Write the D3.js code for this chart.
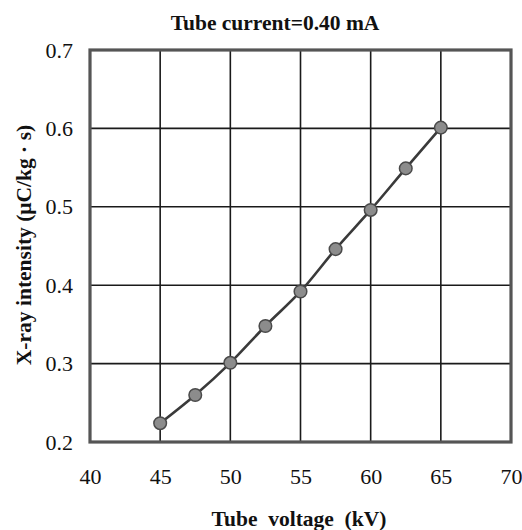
<!DOCTYPE html>
<html>
<head>
<meta charset="utf-8">
<script src="https://cdn.jsdelivr.net/npm/d3@7"></script>
<style>
  body { margin: 0; background: #fff; }
  svg text { font-family: "Liberation Serif", "Times New Roman", serif !important; fill: #111; }
</style>
</head>
<body>
<div id="chart"></div>
<script>
// tube voltage (kV) vs x-ray intensity
const voltages = [45, 47.5, 50, 52.5, 55, 57.5, 60, 62.5, 65];
const intensity = [0.224, 0.260, 0.301, 0.348, 0.392, 0.446, 0.496, 0.549, 0.601];
const xTicks = [40, 45, 50, 55, 60, 65, 70];
const yTicks = [0.2, 0.3, 0.4, 0.5, 0.6, 0.7];

const W = 522, H = 530;
const m = {left: 90, right: 11, top: 50, bottom: 88};

const svg = d3.select('#chart').append('svg')
  .attr('width', W).attr('height', H);

const sx = d3.scaleLinear().domain([40, 70]).range([m.left, W - m.right]);
const sy = d3.scaleLinear().domain([0.2, 0.7]).range([H - m.bottom, m.top]);

// grid
const grid = svg.append('g');
grid.selectAll('line.vx').data(xTicks.slice(1, -1)).enter().append('line')
  .attr('x1', d => sx(d)).attr('x2', d => sx(d))
  .attr('y1', sy(0.2)).attr('y2', sy(0.7))
  .attr('stroke', '#1a1a1a').attr('stroke-width', 1.6);
grid.selectAll('line.hy').data(yTicks.slice(1, -1)).enter().append('line')
  .attr('x1', sx(40)).attr('x2', sx(70))
  .attr('y1', d => sy(d)).attr('y2', d => sy(d))
  .attr('stroke', '#1a1a1a').attr('stroke-width', 1.6);

// frame
svg.append('rect')
  .attr('x', sx(40)).attr('y', sy(0.7))
  .attr('width', sx(70) - sx(40)).attr('height', sy(0.2) - sy(0.7))
  .attr('fill', 'none').attr('stroke', '#555').attr('stroke-width', 3.2);

// axes (labels only)
const xAxis = svg.append('g')
  .attr('transform', `translate(0, ${sy(0.2)})`)
  .call(d3.axisBottom(sx).tickValues(xTicks).tickSize(0).tickPadding(26));
const yAxis = svg.append('g')
  .attr('transform', `translate(${sx(40)}, 0)`)
  .call(d3.axisLeft(sy).tickValues(yTicks).tickSize(0).tickPadding(17).tickFormat(d3.format('.1f')));
[xAxis, yAxis].forEach(a => {
  a.attr('font-family', null).attr('font-size', null);
  a.select('.domain').remove();
  a.selectAll('text')
    .style('font-family', '"Liberation Serif", "Times New Roman", serif')
    .style('font-size', '22px').style('fill', '#111');
});

// curve
const pts = voltages.map((v, i) => [v, intensity[i]]);
svg.append('path').datum(pts)
  .attr('d', d3.line().x(d => sx(d[0])).y(d => sy(d[1])).curve(d3.curveMonotoneX))
  .attr('fill', 'none').attr('stroke', '#3a3a3a').attr('stroke-width', 2.6);

svg.append('g').selectAll('circle').data(pts).enter().append('circle')
  .attr('cx', d => sx(d[0])).attr('cy', d => sy(d[1]))
  .attr('r', 6.3)
  .attr('fill', '#8c8c8c').attr('stroke', '#4a4a4a').attr('stroke-width', 1.5);

// titles
svg.append('text')
  .attr('x', 275).attr('y', 30)
  .attr('text-anchor', 'middle')
  .attr('font-weight', 'bold').attr('font-size', 21.5)
  .text('Tube current=0.40 mA');

svg.append('text')
  .attr('x', 299).attr('y', 526)
  .attr('text-anchor', 'middle')
  .attr('font-weight', 'bold').attr('font-size', 21.5)
  .style('white-space', 'pre')
  .text('Tube  voltage  (kV)');

svg.append('text')
  .attr('transform', `translate(31, 245) rotate(-90)`)
  .attr('text-anchor', 'middle')
  .attr('font-weight', 'bold').attr('font-size', 21.5)
  .text('X-ray intensity (\u03bcC/kg \u00b7 s)');
</script>
</body>
</html>
